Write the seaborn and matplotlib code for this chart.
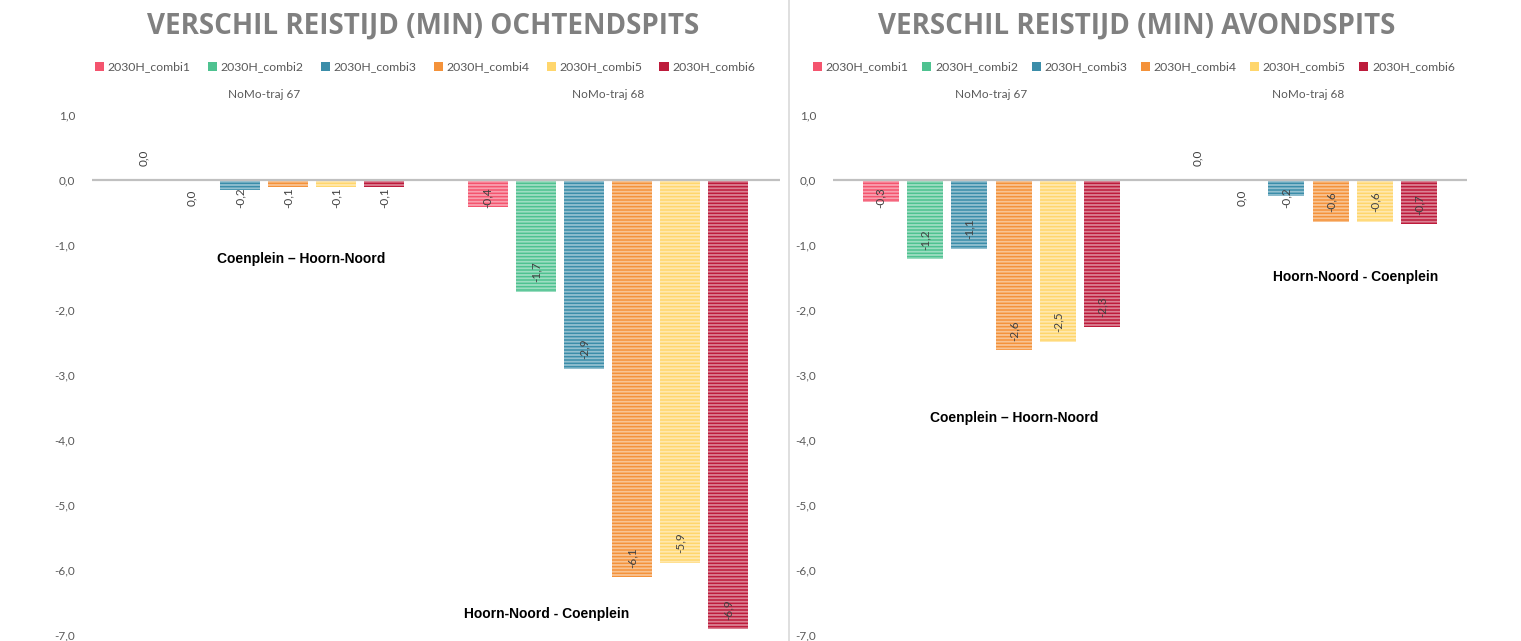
import numpy as np
import pandas as pd
import matplotlib
matplotlib.use("Agg")
import matplotlib.pyplot as plt
import seaborn as sns
from matplotlib.patches import Patch
from matplotlib.lines import Line2D

# ---------------- data ----------------
scenarios = ["2030H_combi1", "2030H_combi2", "2030H_combi3",
             "2030H_combi4", "2030H_combi5", "2030H_combi6"]
trajects = ["NoMo-traj 67", "NoMo-traj 68"]
ochtend_traj67 = [0.0, -0.02, -0.16, -0.11, -0.11, -0.11]
ochtend_traj68 = [-0.42, -1.72, -2.91, -6.11, -5.89, -6.91]
avond_traj67 = [-0.34, -1.22, -1.06, -2.62, -2.49, -2.26]
avond_traj68 = [0.0, -0.02, -0.24, -0.64, -0.64, -0.68]
titles = ["VERSCHIL REISTIJD (MIN) OCHTENDSPITS", "VERSCHIL REISTIJD (MIN) AVONDSPITS"]
yticks = [1, 0, -1, -2, -3, -4, -5, -6, -7]
colors = ["#F4546E", "#4EC290", "#3B8DA9", "#F4923A", "#FFD66C", "#BD1B3B"]
direction_notes = [
    [("Coenplein \u2013 Hoorn-Noord", 0.304, 0.723), ("Hoorn-Noord - Coenplein", 0.661, 0.040)],
    [("Coenplein \u2013 Hoorn-Noord", 0.2855, 0.417), ("Hoorn-Noord - Coenplein", 0.825, 0.688)],
]

def make_df(v67, v68):
    rows = []
    for s, a in zip(scenarios, v67):
        rows.append((trajects[0], s, a))
    for s, a in zip(scenarios, v68):
        rows.append((trajects[1], s, a))
    return pd.DataFrame(rows, columns=["traject", "scenario", "value"])

dfs = [make_df(ochtend_traj67, ochtend_traj68), make_df(avond_traj67, avond_traj68)]

# ---------------- style ----------------
sns.set_theme(style="white")
plt.rcParams["font.family"] = ["Lato", "DejaVu Sans"]
plt.rcParams["hatch.linewidth"] = 1.3

W, H = 1521, 641
fig = plt.figure(figsize=(W / 100, H / 100), dpi=100)

def fx(px):
    return px / W

def fy(py):
    return 1 - py / H

axes_px = [(92, 780), (833, 1467)]
top_px, bot_px = 115, 635
title_x = [423, 1137]
legend_x = [425, 1134]
legend_spacing = [1.4, 1.1]
bar_width = [0.84, 0.84]
bar_gap = [0.17, 0.19]

for i in range(2):
    x0, x1 = axes_px[i]
    ax = fig.add_axes([fx(x0), fy(bot_px), fx(x1 - x0), fy(top_px) - fy(bot_px)])
    sns.barplot(data=dfs[i], x="traject", y="value", hue="scenario",
                hue_order=scenarios, order=trajects, palette=colors,
                width=bar_width[i], gap=bar_gap[i], ax=ax, legend=False,
                errorbar=None, saturation=1, linewidth=0)
    ax.set_ylim(-7, 1)
    ax.set_xlim(-0.5, 1.5)
    ax.set_yticks(yticks)
    ax.set_yticklabels([f"{t:.1f}".replace(".", ",") for t in yticks])
    ax.tick_params(axis="y", length=0, pad=12, labelsize=8.5, labelcolor="#595959")
    ax.xaxis.tick_top()
    ax.tick_params(axis="x", length=0, pad=11, labelsize=8.5, labelcolor="#595959")
    ax.set_xlabel("")
    ax.set_ylabel("")
    for sp in ax.spines.values():
        sp.set_visible(False)
    ax.axhline(0, color="#C0C0C0", lw=1.6, zorder=1)

    unit_px = (bot_px - top_px) / 8.0
    for cont in ax.containers:
        for bar in cont:
            bar.set_hatch("-----")
            bar.set_edgecolor((1, 1, 1, 0.45))
            bar.set_linewidth(0)
            v = bar.get_height()
            xc = bar.get_x() + bar.get_width() / 2
            txt = f"{v:.1f}".replace(".", ",")
            if round(v, 1) == 0:
                txt = "0,0"
            if v >= 0:
                yc = v + 22 / unit_px
            else:
                yc = min(v + 20 / unit_px, -18 / unit_px)
            ax.text(xc, yc, txt, rotation=90, ha="center", va="center",
                    fontsize=8.5, color="#404040", zorder=5)

    for label, xa, ya in direction_notes[i]:
        ax.text(xa, ya, label, transform=ax.transAxes, ha="center", va="center",
                fontsize=10, fontweight="bold", color="black",
                family=["Liberation Sans", "DejaVu Sans"])

    fig.text(fx(title_x[i]), fy(34), titles[i], ha="center", va="baseline",
             fontsize=20, fontweight="bold", color="#808080",
             family=["Open Sans", "DejaVu Sans"])

    handles = [Patch(facecolor=c, edgecolor="none") for c in colors]
    fig.legend(handles, scenarios, loc="center", bbox_to_anchor=(fx(legend_x[i]), fy(67)),
               ncol=6, frameon=False, fontsize=8.8, labelcolor="#595959",
               handlelength=0.75, handleheight=0.75, handletextpad=0.3,
               columnspacing=legend_spacing[i], borderaxespad=0)

fig.add_artist(Line2D([fx(789), fx(789)], [0, 1], color="#D9D9D9", lw=1.2,
                      transform=fig.transFigure))

fig.savefig("out.png", dpi=100, facecolor="white")
